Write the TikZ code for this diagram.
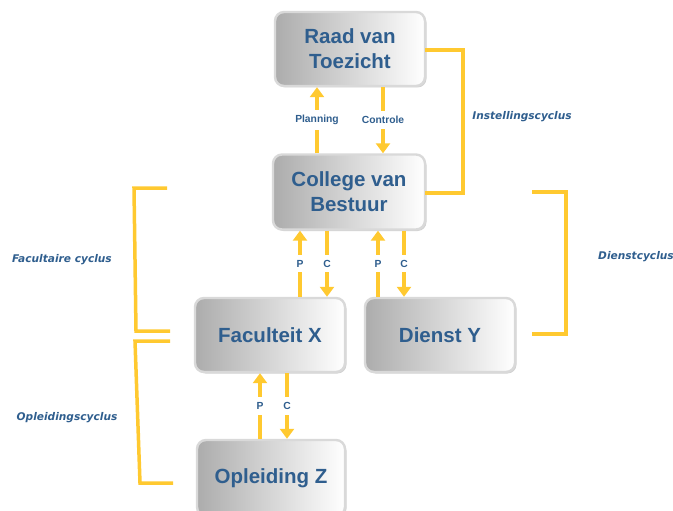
\documentclass[tikz,border=0pt]{standalone}
\usepackage{fontspec}
\setmainfont{Liberation Sans}
\newfontfamily\dejavu{DejaVu Sans}
\usetikzlibrary{arrows.meta,shadows}
\definecolor{ylw}{HTML}{FFC930}
\definecolor{txtblue}{HTML}{2F5E8E}
\begin{document}
\begin{tikzpicture}[x=1pt,y=-1pt,
  box/.style={rounded corners=9pt, draw=gray!30, line width=2.4pt,
    left color=gray!65, right color=white,
    drop shadow={shadow xshift=1.5pt, shadow yshift=-1.5pt, fill=gray!60, opacity=.6},
    align=center, text=txtblue, font=\bfseries\fontsize{20.5}{25}\selectfont,
    inner sep=0pt},
  arr/.style={ylw, line width=3.6pt, -{Triangle[width=14pt,length=10pt]}},
  lab/.style={fill=white, text=txtblue, font=\bfseries\fontsize{10.3}{11}\selectfont, inner xsep=1.5pt, inner ysep=5pt},
  brk/.style={ylw, line width=3.5pt, line join=miter},
  cyc/.style={text=txtblue, font=\dejavu\bfseries\itshape\fontsize{10.6}{12}\selectfont}]
\useasboundingbox (0,0) rectangle (673,511);
\clip (0,0) rectangle (673,511);
\node[box, minimum width=150pt, minimum height=74pt] (raad) at (350,49) {Raad van\\Toezicht};
\node[box, minimum width=152pt, minimum height=75pt] (cvb) at (349,192) {College van\\Bestuur};
\node[box, minimum width=150pt, minimum height=74pt] (fac) at (270,335) {Faculteit X};
\node[box, minimum width=150pt, minimum height=74pt] (dienst) at (440,335) {Dienst Y};
\node[box, minimum width=148pt, minimum height=76pt] (opl) at (271,478) {Opleiding Z};
% arrows
\draw[arr] ([xshift=-32pt]cvb.north) -- node[lab]{Planning} ([xshift=-33pt]raad.south);
\draw[arr] ([xshift=33pt]raad.south) -- node[lab]{Controle} ([xshift=34pt]cvb.north);
\draw[arr] ([xshift=30pt]fac.north) -- node[lab]{P} ([xshift=-49pt]cvb.south);
\draw[arr] ([xshift=-22pt]cvb.south) -- node[lab]{C} ([xshift=57pt]fac.north);
\draw[arr] ([xshift=-62pt]dienst.north) -- node[lab]{P} ([xshift=29pt]cvb.south);
\draw[arr] ([xshift=55pt]cvb.south) -- node[lab]{C} ([xshift=-36pt]dienst.north);
\draw[arr] ([xshift=-11pt]opl.north) -- node[lab]{P} ([xshift=-10pt]fac.south);
\draw[arr] ([xshift=17pt]fac.south) -- node[lab]{C} ([xshift=16pt]opl.north);
% brackets
\draw[brk] (425,50) -- (463,50) -- (463,193) -- (425,193);
\draw[brk] (532,192) -- (566,192) -- (566,334) -- (532,334);
\draw[brk] (167,188) -- (134,188) -- (136,331) -- (170,331);
\draw[brk] (170,341) -- (135,341) -- (140,483) -- (173,483);
% cycle labels
\node[cyc] (ins) at (522,117) {Instellingscyclus};
\node[cyc] (dc) at (636,257) {Dienstcyclus};
\node[cyc] (fc) at (62,260) {Facultaire cyclus};
\node[cyc] (oc) at (67,418) {Opleidingscyclus};
\end{tikzpicture}
\end{document}
